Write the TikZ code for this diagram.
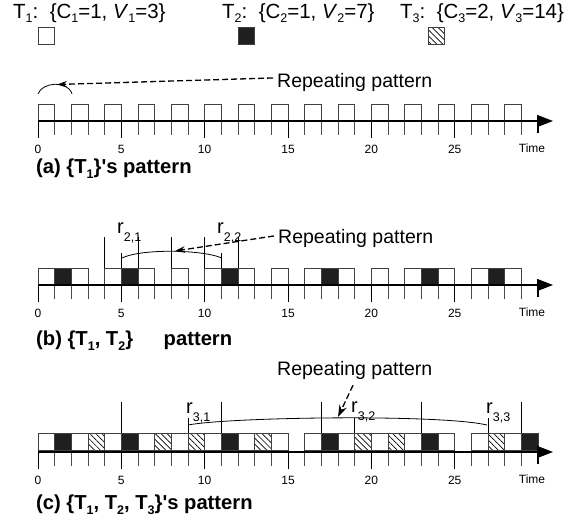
\documentclass[tikz,border=0pt]{standalone}
\usepackage{fontspec}
\setmainfont{Liberation Sans}
\usetikzlibrary{arrows.meta,patterns.meta}

% lowered subscripts
\newcommand{\sbs}[1]{\raisebox{-5pt}{\fontsize{12.5}{12.5}\selectfont #1}}
\newcommand{\rsub}[1]{r\raisebox{-8.5pt}{\fontsize{12.5}{12.5}\selectfont #1}}

\begin{document}
\begin{tikzpicture}[x=1pt,y=-1pt,
  slot/.style={draw=black!75,line width=0.8pt,minimum width=16.67pt,minimum height=17pt,
               inner sep=0pt,outer sep=0pt,anchor=south west},
  wslot/.style={slot,fill=white},
  bslot/.style={slot,fill=black!88},
  hslot/.style={slot,pattern={Lines[angle=-45,distance=4.2pt,line width=0.7pt]}},
  axisline/.style={line width=1.4pt,-{Triangle[length=16pt,width=12pt]}},
  tick/.style={draw=black!70,line width=0.8pt},
  num/.style={font=\fontsize{12}{12}\selectfont,inner sep=0pt,anchor=base},
  hdr/.style={font=\fontsize{20.5}{20.5}\selectfont,inner sep=0pt,anchor=base west},
  captxt/.style={font=\fontsize{20.2}{20.2}\selectfont\bfseries,inner sep=0pt,anchor=base west},
  rep/.style={font=\fontsize{19.5}{19.5}\selectfont,inner sep=0pt,anchor=base west},
  rlab/.style={font=\fontsize{20}{20}\selectfont,inner sep=0pt,anchor=base west},
  guide/.style={line width=0.8pt},
  dasharrow/.style={line width=1.3pt,dash pattern=on 6pt off 3pt,-{Stealth[length=10pt,width=6.5pt]}},
]
\useasboundingbox (0,0) rectangle (578,522);

% ---- legend ----
\node[hdr] (h1) at (13,18) {T\sbs{1}:\ \ \{C\sbs{1}=1, \textit{V}\sbs{1}=3\}};
\node[hdr] (h2) at (222,18) {T\sbs{2}:\ \ \{C\sbs{2}=1, \textit{V}\sbs{2}=7\}};
\node[hdr] (h3) at (400,18) {T\sbs{3}:\ \ \{C\sbs{3}=2, \textit{V}\sbs{3}=14\}};
\node[wslot] (k1) at (38,44) {};
\node[bslot] (k2) at (238,44) {};
\node[hslot] (k3) at (428,44) {};

% ---- time axes with ticks and labels ----
\foreach \r/\y in {a/121,b/285,c/452}{
  \foreach \t in {0,...,29}
    \draw[tick] ({38+16.667*\t},\y) -- ++(0,14);
  \foreach \t in {0,5,...,25}{
    \draw[tick,draw=black] ({38+16.667*\t},\y) -- ++(0,17);
    \node[num] (\r n\t) at ({38+16.667*\t},{\y+32}) {\t};
  }
  \draw[tick,draw=black,line width=1.2pt] ({38+16.667*30},{\y-3}) -- ++(0,15);
  \node[num] (\r time) at (532,{\y+31}) {Time};
}

% ---- (a) ----
\foreach \t in {0,2,...,28}
  \node[wslot] (a\t) at ({38+16.667*\t},121) {};
\draw[axisline] (38,121) -- (553,121);
\draw[guide] (38,94) .. controls (42,82) and (68,80) .. (72,94);
\coordinate (tipA) at (57,84.5);
\node[rep] (repA) at (277,87) {Repeating pattern};
\draw[dasharrow] ([shift={(-4,-4)}]repA.west) -- (tipA);
\node[captxt] (capA) at (36,173) {(a) \{T\sbs{1}\}\textquotesingle s pattern};

% ---- (b) ----
\foreach \t in {4,6,8,10,12}
  \draw[guide] ({38+16.667*\t},237) -- ({38+16.667*\t},285);
\foreach \t in {5,11}
  \draw[guide] ({38+16.667*\t},253) -- ({38+16.667*\t},285);
\foreach \t in {0,2,...,28}
  \node[wslot] (b\t) at ({38+16.667*\t},285) {};
\foreach \t in {1,5,11,17,23,27}
  \node[bslot] (b\t) at ({38+16.667*\t},285) {};
\draw[axisline] (38,285) -- (553,285);
\draw[guide] (122,258) .. controls (140,249) and (200,249) .. (222,258);
\node[rlab] (r21) at (117,233) {\rsub{2,1}};
\node[rlab] (r22) at (217,233) {\rsub{2,2}};
\coordinate (tipB) at (175,251);
\node[rep] (repB) at (278,243) {Repeating pattern};
\draw[dasharrow] ([shift={(-4,-2)}]repB.west) -- (tipB);
\node[captxt] (capB) at (36,345) {(b) \{T\sbs{1}, T\sbs{2}\}\hspace{25pt} pattern};

% ---- (c) ----
\foreach \t in {5,11,17,23,29}
  \draw[guide] ({38+16.667*\t},402) -- ({38+16.667*\t},450);
\foreach \t in {9,19,27}
  \draw[guide] ({38+16.667*\t},418) -- ({38+16.667*\t},450);
\foreach \t in {0,2,...,28}
  \node[wslot] (c\t) at ({38+16.667*\t},450) {};
\foreach \t in {1,5,11,17,23,29}
  \node[bslot] (c\t) at ({38+16.667*\t},450) {};
\foreach \t in {3,7,9,13,19,21,27}
  \node[hslot] (c\t) at ({38+16.667*\t},450) {};
\draw[axisline] (38,452) -- (553,452);
\draw[guide] (188,425) .. controls (230,417) and (440,414) .. (487,425);
\node[rlab] (r31) at (186,413) {\rsub{3,1}};
\node[rlab] (r32) at (351,412) {\rsub{3,2}};
\node[rlab] (r33) at (486,413) {\rsub{3,3}};
\coordinate (tipC) at (338,417);
\node[rep] (repC) at (277,375) {Repeating pattern};
\draw[dasharrow,-{Stealth[length=12pt,width=8pt]}] ([shift={(76,6)}]repC.south west) -- (tipC);
\node[captxt] (capC) at (36,509) {(c) \{T\sbs{1}, T\sbs{2}, T\sbs{3}\}\textquotesingle s pattern};
\end{tikzpicture}
\end{document}
